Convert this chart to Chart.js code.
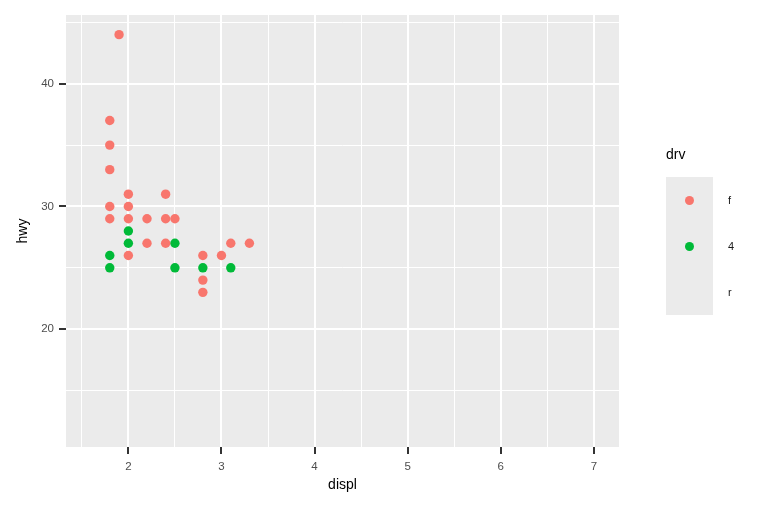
<!DOCTYPE html>
<html>
<head>
<meta charset="utf-8">
<script src="https://cdn.jsdelivr.net/npm/chart.js@4"></script>
<style>
    body { margin: 0; background: #fff; font-family: "Liberation Sans", Arial, sans-serif; }
    #wrap { position: relative; width: 768px; height: 512px; }
    #legend { position: absolute; left: 666px; top: 143px; }
    #legend .title { font-size: 14px; color: #000; height: 34px; line-height: 22px; }
    #legend .row { position: relative; height: 46px; }
    #legend .key { position: absolute; left: 0; top: 0; width: 47px; height: 46px; background: #EBEBEB; }
    #legend .dot { position: absolute; left: 19px; top: 19px; width: 9px; height: 9px; border-radius: 50%; }
    #legend .lab { position: absolute; left: 62px; top: 0; line-height: 46px; font-size: 11px; color: #1a1a1a; }
</style>
</head>
<body>
<div id="wrap">
    <canvas id="chart" width="768" height="512"></canvas>
    <div id="legend"></div>
</div>
<script>
// drv levels and colours
const drvLevels = ["f", "4", "r"];
const drvColors = ["#F8766D", "#00BA38", "#619CFF"];

// front wheel drive
const displF = [1.9, 1.8, 1.8, 1.8, 2.0, 2.4, 1.8, 2.0, 1.8, 2.0, 2.2, 2.4, 2.5, 2.2, 2.4, 3.1, 3.3, 2.0, 2.8, 3.0, 2.8, 2.8];
const hwyF   = [44,  37,  35,  33,  31,  31,  30,  30,  29,  29,  29,  29,  29,  27,  27,  27,  27,  26,  26,  26,  24,  23];

// 4 wheel drive
const displ4 = [2.0, 2.0, 2.5, 1.8, 1.8, 2.5, 2.8, 3.1];
const hwy4   = [28,  27,  27,  26,  25,  25,  25,  25];

// rear wheel drive (none in view)
const displR = [];
const hwyR   = [];

// axis breaks
const xMajor = [2, 3, 4, 5, 6, 7];
const xMinor = [1.5, 2.5, 3.5, 4.5, 5.5, 6.5];
const yMajor = [20, 30, 40];
const yMinor = [15, 25, 35, 45];

const xLimits = [1.33, 7.27];
const yLimits = [10.4, 45.6];

function toPoints(xs, ys) {
    return xs.map((x, i) => ({ x: x, y: ys[i] }));
}

const seriesX = [displF, displ4, displR];
const seriesY = [hwyF, hwy4, hwyR];

const datasets = drvLevels.map((lvl, i) => ({
    label: lvl,
    data: toPoints(seriesX[i], seriesY[i]),
    backgroundColor: drvColors[i],
    borderWidth: 0,
    pointRadius: 4.7,
    pointHoverRadius: 4.7
}));

const panelBg = {
    id: "panelBg",
    beforeDraw(chart) {
        const a = chart.chartArea;
        const c = chart.ctx;
        c.save();
        c.fillStyle = "#EBEBEB";
        c.fillRect(a.left, a.top, a.right - a.left, a.bottom - a.top);
        c.restore();
    }
};

function axisGrid(major) {
    return {
        color: "#FFFFFF",
        lineWidth: ctx => major.includes(ctx.tick.value) ? 2 : 1,
        tickColor: ctx => major.includes(ctx.tick.value) ? "#333333" : "rgba(0,0,0,0)",
        tickWidth: 2,
        tickLength: 7,
        drawTicks: true
    };
}

new Chart(document.getElementById("chart"), {
    type: "scatter",
    data: { datasets },
    plugins: [panelBg],
    options: {
        responsive: false,
        animation: false,
        devicePixelRatio: 1,
        layout: { padding: { left: 0, right: 149, top: 15, bottom: 0 } },
        plugins: {
            legend: { display: false },
            tooltip: { enabled: false }
        },
        scales: {
            x: {
                type: "linear",
                min: xLimits[0],
                max: xLimits[1],
                afterBuildTicks: s => { s.ticks = xMajor.concat(xMinor).sort((a, b) => a - b).map(v => ({ value: v })); },
                afterFit: s => { s.height = 65; },
                grid: axisGrid(xMajor),
                border: { display: false },
                ticks: {
                    autoSkip: false,
                    maxRotation: 0,
                    padding: 6,
                    color: "#4D4D4D",
                    font: { family: "Liberation Sans", size: 11.5 },
                    callback: v => xMajor.includes(v) ? String(v) : ""
                },
                title: {
                    display: true,
                    text: "displ",
                    color: "#000",
                    font: { family: "Liberation Sans", size: 14 },
                    padding: { top: 4, bottom: 18 }
                }
            },
            y: {
                type: "linear",
                min: yLimits[0],
                max: yLimits[1],
                afterBuildTicks: s => { s.ticks = yMajor.concat(yMinor).sort((a, b) => a - b).map(v => ({ value: v })); },
                afterFit: s => { s.width = 66; },
                grid: axisGrid(yMajor),
                border: { display: false },
                ticks: {
                    autoSkip: false,
                    padding: 5,
                    color: "#4D4D4D",
                    font: { family: "Liberation Sans", size: 11.5 },
                    callback: v => yMajor.includes(v) ? String(v) : ""
                },
                title: {
                    display: true,
                    text: "hwy",
                    color: "#000",
                    font: { family: "Liberation Sans", size: 14 },
                    padding: { top: 15, bottom: 4 }
                }
            }
        }
    }
});

// legend drawn as html
const legend = document.getElementById("legend");
legend.innerHTML = `<div class="title">drv</div>` + datasets.map((d, i) => `
    <div class="row">
        <div class="key">${d.data.length ? `<div class="dot" style="background:${drvColors[i]}"></div>` : ""}</div>
        <div class="lab">${d.label}</div>
    </div>`).join("");
</script>
</body>
</html>
